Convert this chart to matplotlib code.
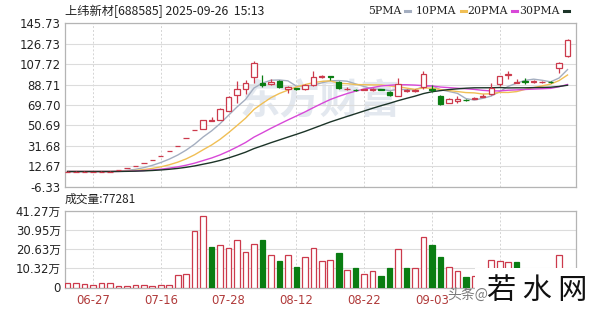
import pandas as pd
import matplotlib
matplotlib.use("Agg")
import matplotlib.pyplot as plt
from matplotlib.patches import Rectangle

W, H = 600, 312

# Daily candles.
opens = [7.6, 7.7, 7.7, 7.7, 7.7, 7.7, 9.4, 11.2, 13.0, 15.5,
         18.6, 22.5, 27.0, 32.0, 38.6, 46.3, 47.5, 55.0, 56.0, 64.5,
         79.0, 85.0, 96.0, 90.0, 89.5, 92.0, 84.5, 85.2, 84.5, 88.0,
         95.5, 96.5, 91.0, 84.2, 83.8, 83.8, 83.8, 84.5, 82.0, 78.5,
         82.5, 82.5, 86.0, 84.5, 78.0, 72.0, 73.5, 74.6, 75.4, 77.5,
         79.6, 89.0, 97.8, 90.5, 91.6, 90.8, 90.8, 91.4, 104.3, 115.1]
highs = [7.9, 7.9, 7.9, 7.8, 7.9, 7.9, 9.4, 11.2, 13.0, 15.5,
         18.6, 22.5, 27.0, 32.0, 38.6, 46.3, 56.0, 58.5, 67.0, 78.5,
         92.0, 92.5, 110.5, 98.0, 93.5, 92.5, 87.0, 85.8, 89.0, 101.0,
         98.0, 97.0, 92.0, 86.0, 84.5, 85.0, 85.5, 85.0, 83.0, 95.0,
         84.5, 85.0, 101.0, 88.0, 79.0, 76.0, 78.0, 75.2, 76.8, 79.5,
         90.4, 97.0, 101.2, 93.5, 95.0, 92.5, 91.8, 91.8, 109.5, 130.7]
lows = [7.5, 7.6, 7.6, 7.6, 7.6, 7.6, 9.4, 11.2, 13.0, 15.5,
        18.6, 22.5, 27.0, 32.0, 38.6, 46.3, 47.0, 54.5, 55.5, 64.0,
        72.0, 80.0, 90.0, 86.0, 88.5, 85.5, 81.0, 84.0, 83.5, 87.0,
        94.5, 93.0, 85.0, 83.5, 82.8, 83.2, 83.0, 83.5, 78.5, 78.0,
        82.0, 81.5, 85.0, 82.0, 70.0, 71.5, 72.0, 73.8, 75.0, 76.8,
        79.0, 87.0, 93.5, 90.0, 88.9, 90.5, 90.5, 90.6, 99.7, 114.0]
closes = [7.8, 7.8, 7.8, 7.8, 7.8, 7.8, 9.4, 11.2, 13.0, 15.5,
          18.6, 22.5, 27.0, 32.0, 38.6, 46.3, 55.8, 55.4, 65.7, 77.5,
          85.0, 90.5, 108.9, 88.5, 91.0, 86.0, 86.5, 84.6, 88.0, 96.0,
          96.5, 96.0, 85.7, 85.0, 83.3, 84.4, 84.6, 84.0, 79.0, 89.0,
          83.5, 84.0, 98.5, 83.2, 70.5, 75.2, 75.5, 74.2, 76.2, 78.5,
          85.7, 96.5, 98.2, 91.3, 91.2, 91.6, 91.2, 91.0, 108.9, 130.6]

# Volume in 万 (10k lots), and whether its bar is red (1) or green (0).
volumes = [2.2, 2.2, 2.0, 1.2, 2.2, 2.2, 0.7, 0.7, 1.2, 1.2,
           0.7, 1.2, 1.2, 6.8, 7.5, 30.2, 38.2, 21.7, 22.6, 21.4,
           25.7, 19.1, 23.2, 25.7, 17.3, 14.1, 17.3, 11.1, 16.1, 21.2,
           14.1, 14.6, 18.5, 9.3, 10.4, 7.0, 8.9, 6.3, 10.4, 20.9,
           10.4, 10.2, 27.0, 22.6, 16.1, 10.8, 9.1, 5.8, 6.0, 8.0,
           14.6, 14.2, 13.6, 13.4, 10.0, 8.0, 6.0, 7.0, 17.3, 7.73]
vol_up = [1, 1, 1, 1, 1, 1, 1, 1, 1, 1,
          1, 1, 1, 1, 1, 1, 1, 0, 1, 1,
          1, 1, 1, 0, 1, 0, 1, 0, 1, 1,
          1, 1, 0, 1, 0, 1, 1, 0, 0, 1,
          0, 1, 1, 0, 0, 1, 1, 0, 1, 1,
          1, 1, 1, 0, 0, 1, 1, 0, 1, 1]

# the label at 51 sits under the site watermark, so it stays empty
date_pos = [3, 11, 19, 27, 35, 43, 51]
date_labels = ["06-27", "07-16", "07-28", "08-12", "08-22", "09-03", ""]
price_ticks = [-6.33, 12.67, 31.68, 50.69, 69.70, 88.71, 107.72, 126.73, 145.73]
vol_ticks = [0, 10.32, 20.63, 30.95, 41.27]
vol_labels = ["0", "10.32万", "20.63万", "30.95万", "41.27万"]
ma_periods = [5, 10, 20, 30]
ma_names = ["5PMA", "10PMA", "20PMA", "30PMA"]

RED = "#cc3a4c"
GREEN = "#0a7d12"
ma_colors = ["#a4aec0", "#f0bf55", "#d848d8", "#1c3428"]

plt.rcParams["font.family"] = ["DejaVu Sans", "Noto Sans CJK SC"]

fig = plt.figure(figsize=(W / 100, H / 100), dpi=100)


def frac(x0, y0, x1, y1):
    return [x0 / W, 1 - y1 / H, (x1 - x0) / W, (y1 - y0) / H]


ax = fig.add_axes(frac(65, 23.3, 576, 186.7))
axv = fig.add_axes(frac(65, 210.5, 576, 287.5), sharex=ax)

n = len(closes)
idx = list(range(n))

# faint source watermark behind the candles
ax.text(0.50, 0.52, "东方财富", transform=ax.transAxes, ha="center", va="center",
        fontsize=29, color="#e3e8ef", family=["Noto Sans CJK SC"], zorder=0,
        fontweight="bold")

# Moving averages (padded with the first close so they start flat).
padded = pd.Series([closes[0]] * 29 + closes)
for p, col in zip(ma_periods, ma_colors):
    ma = padded.rolling(p).mean().iloc[29:].to_numpy()
    ax.plot(idx, ma, color=col, lw=1.0, zorder=2)

# Candles.
for i in idx:
    o, h, l, c = opens[i], highs[i], lows[i], closes[i]
    up = c >= o
    col = RED if up else GREEN
    ax.vlines(i, l, h, color=col, lw=0.9, zorder=3)
    ax.bar(i, abs(c - o), bottom=min(o, c), width=0.64,
           facecolor="white" if up else col, edgecolor=col, lw=0.9, zorder=4)

ax.set_xlim(-0.3, 60.0)
ax.set_ylim(-6.33, 145.73)
ax.set_yticks(price_ticks)
ax.set_yticklabels([f"{t:.2f}" for t in price_ticks])
ax.grid(axis="y", color="#dcdcdc", lw=0.8)
ax.set_xticks(date_pos)
ax.grid(axis="x", color="#d4d4d4", lw=0.7, ls=(0, (2, 2)))
ax.tick_params(axis="x", length=0, labelbottom=False)
ax.tick_params(axis="y", length=0, pad=3, labelsize=8.4, colors="#222222")

# Volume bars.
for i in idx:
    col = RED if vol_up[i] else GREEN
    axv.bar(i, volumes[i], width=0.66, facecolor="white" if vol_up[i] else col,
            edgecolor=col, lw=0.9, zorder=3)

axv.set_ylim(0, 41.27)
axv.set_yticks(vol_ticks)
axv.set_yticklabels(vol_labels)
axv.grid(axis="y", color="#dcdcdc", lw=0.8)
axv.grid(axis="x", color="#d4d4d4", lw=0.7, ls=(0, (2, 2)))
axv.set_xticks(date_pos)
axv.set_xticklabels(date_labels)
axv.tick_params(axis="x", length=0, pad=5, labelsize=8.4, colors="#b03a3a")
axv.tick_params(axis="y", length=0, pad=3, labelsize=8.4, colors="#222222")

for a in (ax, axv):
    for s in a.spines.values():
        s.set_color("#b4b4b4")
        s.set_linewidth(0.9)

# Header texts.
cjk = ["Noto Sans CJK SC", "DejaVu Sans"]
fig.text(65 / W, 1 - 11 / H, "上纬新材[688585] 2025-09-26  15:13", family=cjk,
         fontsize=8.8, color="#222222", va="center", ha="left")
fig.text(65 / W, 1 - 199 / H, "成交量:77281", family=cjk,
         fontsize=8.5, color="#222222", va="center", ha="left")

leg_x = [368, 416, 467, 519]
for x0, name, col in zip(leg_x, ma_names, ma_colors):
    t = fig.text(x0 / W, 1 - 11 / H, name, family=["DejaVu Serif"],
                 fontsize=7.8, color="#222222", va="center", ha="left")
    fig.canvas.draw()
    bb = t.get_window_extent()
    fig.add_artist(plt.Line2D([(bb.x1 + 4) / W, (bb.x1 + 9) / W],
                              [1 - 11 / H, 1 - 11 / H], color=col, lw=2.2))

# Site watermark in the bottom right corner.
fig.text(447 / W, 1 - 295 / H, "头条@", family=cjk, fontsize=10,
         color="#7a7a7a", va="center", ha="left")
fig.add_artist(Rectangle((475 / W, 0), 125 / W, 44 / H, transform=fig.transFigure,
                         facecolor="white", edgecolor="none"))
fig.text(537 / W, 1 - 291 / H, "若 水 网", family=cjk, fontsize=21,
         color="#111111", va="center", ha="center")

fig.savefig("out.png", dpi=100)
